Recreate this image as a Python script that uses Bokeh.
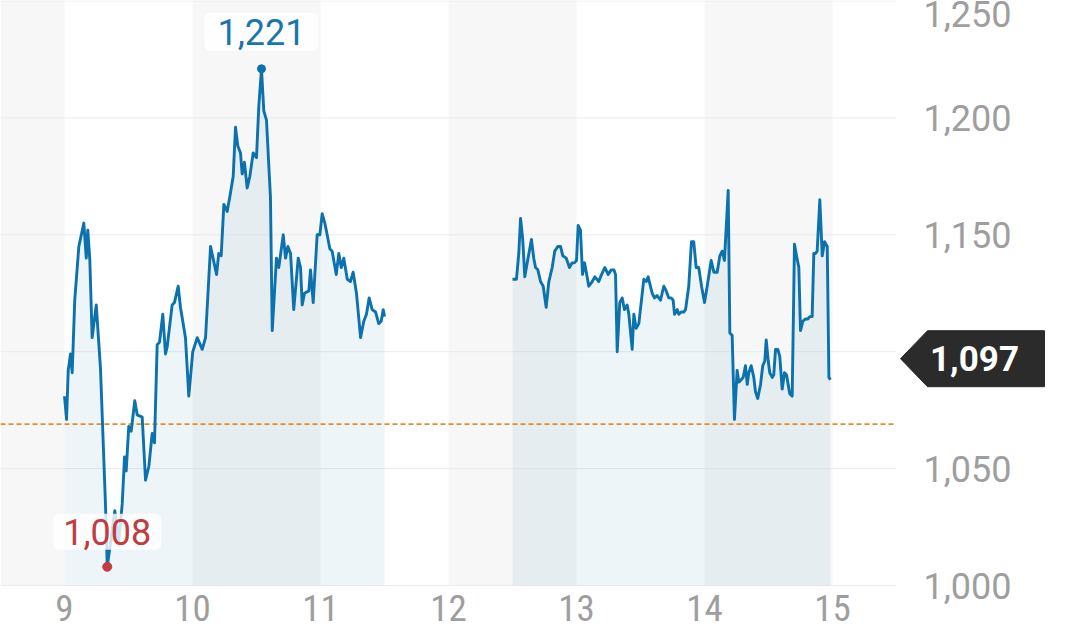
from bokeh.plotting import figure
from bokeh.models import Range1d, FixedTicker, NumeralTickFormatter, Label, LinearAxis
from bokeh.core.properties import value
from bokeh.embed import file_html
from bokeh.resources import INLINE

# ---------------- data ----------------
t1 = [9.000, 9.016, 9.029, 9.047, 9.060, 9.080, 9.112, 9.151, 9.170, 9.182,
      9.198, 9.216, 9.248, 9.281, 9.320, 9.334, 9.359, 9.393, 9.424, 9.451,
      9.469, 9.482, 9.502, 9.521, 9.549, 9.568, 9.607, 9.633, 9.659, 9.685,
      9.703, 9.724, 9.742, 9.768, 9.789, 9.802, 9.841, 9.859, 9.888, 9.906,
      9.945, 9.971, 10.002, 10.037, 10.076, 10.102, 10.141, 10.188, 10.205, 10.224,
      10.245, 10.271, 10.297, 10.318, 10.336, 10.354, 10.375, 10.388, 10.406, 10.427,
      10.448, 10.474, 10.500, 10.518, 10.539, 10.557, 10.578, 10.609, 10.623, 10.656,
      10.674, 10.709, 10.727, 10.745, 10.766, 10.791, 10.826, 10.844, 10.857, 10.875,
      10.909, 10.922, 10.943, 10.974, 10.995, 11.013, 11.034, 11.052, 11.073, 11.091,
      11.123, 11.143, 11.162, 11.182, 11.209, 11.234, 11.255, 11.281, 11.313, 11.338,
      11.359, 11.380, 11.404, 11.430, 11.455, 11.474, 11.490, 11.500]
v1 = [1081, 1071, 1092, 1099, 1091, 1122, 1145, 1155, 1140, 1152,
      1139, 1106, 1120, 1093, 1035, 1008, 1018, 1032, 1019, 1035,
      1055, 1049, 1068, 1066, 1079, 1073, 1072, 1045, 1051, 1065,
      1061, 1103, 1104, 1116, 1099, 1102, 1120, 1121, 1128, 1119,
      1106, 1081, 1100, 1106, 1101, 1106, 1145, 1133, 1142, 1141,
      1163, 1160, 1168, 1175, 1196, 1188, 1185, 1176, 1181, 1170,
      1175, 1185, 1183, 1205, 1221, 1203, 1199, 1166, 1109, 1140,
      1136, 1150, 1140, 1145, 1142, 1118, 1140, 1136, 1120, 1125,
      1126, 1135, 1121, 1150, 1150, 1159, 1155, 1150, 1144, 1143,
      1133, 1142, 1136, 1140, 1131, 1130, 1134, 1125, 1106, 1113,
      1116, 1123, 1118, 1117, 1112, 1113, 1118, 1115]

t2 = [12.500, 12.531, 12.549, 12.563, 12.580, 12.596, 12.615, 12.648, 12.666, 12.680,
      12.698, 12.719, 12.740, 12.763, 12.784, 12.810, 12.830, 12.854, 12.875, 12.893,
      12.920, 12.945, 12.966, 12.984, 13.000, 13.013, 13.031, 13.047, 13.063, 13.096,
      13.123, 13.143, 13.174, 13.188, 13.221, 13.248, 13.271, 13.292, 13.305, 13.318,
      13.338, 13.357, 13.375, 13.396, 13.409, 13.435, 13.448, 13.466, 13.487, 13.526,
      13.545, 13.560, 13.591, 13.609, 13.630, 13.656, 13.682, 13.701, 13.721, 13.740,
      13.755, 13.766, 13.787, 13.799, 13.818, 13.839, 13.852, 13.877, 13.898, 13.916,
      13.935, 13.955, 13.977, 14.000, 14.021, 14.052, 14.073, 14.099, 14.120, 14.138,
      14.156, 14.185, 14.198, 14.216, 14.234, 14.255, 14.268, 14.287, 14.302, 14.320,
      14.334, 14.346, 14.365, 14.385, 14.398, 14.416, 14.438, 14.455, 14.471, 14.482,
      14.498, 14.510, 14.529, 14.541, 14.555, 14.573, 14.588, 14.607, 14.625, 14.641,
      14.666, 14.685, 14.703, 14.719, 14.737, 14.750, 14.768, 14.789, 14.807, 14.823,
      14.841, 14.854, 14.867, 14.880, 14.901, 14.920, 14.938, 14.959, 14.972, 14.984]
v2 = [1131, 1131, 1142, 1157, 1148, 1132, 1138, 1148, 1140, 1136,
      1135, 1130, 1128, 1119, 1130, 1136, 1143, 1145, 1145, 1141,
      1140, 1136, 1138, 1138, 1139, 1154, 1152, 1133, 1138, 1128,
      1130, 1132, 1130, 1132, 1136, 1133, 1135, 1135, 1133, 1100,
      1121, 1123, 1118, 1120, 1116, 1101, 1116, 1110, 1112, 1131,
      1130, 1132, 1125, 1123, 1124, 1122, 1128, 1126, 1123, 1123,
      1122, 1116, 1118, 1116, 1117, 1117, 1118, 1128, 1147, 1147,
      1136, 1136, 1128, 1121, 1128, 1139, 1134, 1134, 1141, 1143,
      1139, 1169, 1108, 1107, 1071, 1092, 1087, 1088, 1089, 1094,
      1086, 1091, 1094, 1089, 1083, 1080, 1086, 1094, 1096, 1105,
      1096, 1091, 1089, 1090, 1101, 1101, 1098, 1084, 1091, 1090,
      1082, 1081, 1146, 1141, 1136, 1109, 1113, 1114, 1114, 1115,
      1115, 1142, 1142, 1143, 1165, 1141, 1147, 1145, 1089, 1088]

band_left = [8.5, 10, 12, 14]
band_right = [9, 11, 13, 15]
x_ticks = [9, 10, 11, 12, 13, 14, 15]
y_ticks = [1000, 1050, 1100, 1150, 1200, 1250]
prev_close = 1069
last_price = 1097

LINE = "#0b72ad"
RED = "#c23b3f"
TAG = "#2b2b2b"

# session area: hours 8.5..15.5 over 896 px, prices 1000..1250.2 over 585 px;
# the price scale and hour labels are drawn with axes fixed at the area's edges
X0, X1 = 8.5, 15.5
Y0, Y1 = 1000, 1250.2
FIG_W, FIG_H = 1064, 636
PX_PER_HR = 896 / (X1 - X0)
PX_PER_VAL = 585 / (Y1 - Y0)
X_END = X0 + FIG_W / PX_PER_HR
Y_START = Y1 - FIG_H / PX_PER_VAL

# ---------------- figure ----------------
p = figure(width=FIG_W, height=FIG_H, output_backend="svg", toolbar_location=None,
           x_range=Range1d(X0, X_END), y_range=Range1d(Y_START, Y1),
           x_axis_location=None, y_axis_location=None,
           min_border_left=0, min_border_top=0, min_border_right=0, min_border_bottom=0)
p.outline_line_color = None
p.background_fill_color = "white"
p.border_fill_color = "white"
p.grid.visible = False

# alternating hour bands
p.quad(left=band_left, right=band_right, bottom=Y0, top=1260,
       fill_color="#f7f7f7", line_color=None)

# horizontal grid lines at the price ticks (only across the session area)
p.segment(x0=[X0] * len(y_ticks), x1=[X1] * len(y_ticks), y0=y_ticks, y1=y_ticks,
          line_color="#ebebeb", line_width=1)

for t, v in ((t1, v1), (t2, v2)):
    p.varea(x=t, y1=Y0, y2=v, fill_color="#1a7ab5", fill_alpha=0.075)

# previous close
p.segment(x0=[X0], x1=[X1], y0=[prev_close], y1=[prev_close],
          line_color="#e68a2e", line_dash="5 3", line_width=1.8)

for t, v in ((t1, v1), (t2, v2)):
    p.line(t, v, line_color=LINE, line_width=2.9, line_join="round")

all_t = t1 + t2
all_v = v1 + v2
imax = all_v.index(max(all_v))
imin = all_v.index(min(all_v))

p.add_layout(Label(x=all_t[imax], y=all_v[imax], text=f"{all_v[imax]:,}", y_offset=37,
                   text_align="center", text_baseline="middle", text_color="#1876ae",
                   text_font="Roboto", text_font_size="36px",
                   background_fill_color="white", background_fill_alpha=0.85,
                   border_radius=6, padding=dict(left=13, right=13, top=6, bottom=6)))
p.add_layout(Label(x=all_t[imin], y=all_v[imin], text=f"{all_v[imin]:,}", y_offset=35,
                   text_align="center", text_baseline="middle", text_color=RED,
                   text_font="Roboto", text_font_size="36px",
                   background_fill_color="white", background_fill_alpha=0.8,
                   border_radius=6, padding=dict(left=10, right=10, top=5, bottom=5)))
p.scatter([all_t[imax]], [all_v[imax]], size=8, color=LINE)
p.scatter([all_t[imin]], [all_v[imin]], size=9, color=RED)

# price axis, fixed at the right edge of the session area
ya = LinearAxis(fixed_location=X1)
ya.ticker = FixedTicker(ticks=y_ticks)
ya.formatter = NumeralTickFormatter(format="0,0")
ya.axis_line_color = None
ya.major_tick_line_color = None
ya.minor_tick_line_color = None
ya.major_label_standoff = 21
ya.major_label_text_font = "Roboto"
ya.major_label_text_font_size = "36px"
ya.major_label_text_color = "#9e9e9e"
ya.major_label_text_align = "left"
p.add_layout(ya, "right")

# hour axis, fixed at the bottom of the session area
xa = LinearAxis(fixed_location=Y0)
xa.ticker = FixedTicker(ticks=x_ticks)
xa.axis_line_color = None
xa.major_tick_line_color = None
xa.minor_tick_line_color = None
xa.major_label_standoff = 3
xa.major_label_text_font = "Roboto Condensed, Roboto"
xa.major_label_text_font_size = "37px"
xa.major_label_text_color = "#9e9e9e"
p.add_layout(xa, "below")

# last-price tag (arrow + box), drawn above the price labels
tip = X1 + 4 / PX_PER_HR
base = X1 + 31 / PX_PER_HR
right = X1 + 148 / PX_PER_HR
h = 28 / PX_PER_VAL
p.patch(x=[tip, base, right, right, base],
        y=[last_price, last_price + h, last_price + h, last_price - h, last_price - h],
        fill_color=TAG, line_color=TAG, line_width=1, line_join="round", level="overlay")
p.text(x=[X1 + 78 / PX_PER_HR], y=[last_price], text=[f"{last_price:,}"],
       text_align="center", text_baseline="middle", text_color="white",
       text_font=value("Roboto"), text_font_style="bold", text_font_size="35px",
       level="overlay")

open("out.html", "w").write(file_html(p, INLINE))
